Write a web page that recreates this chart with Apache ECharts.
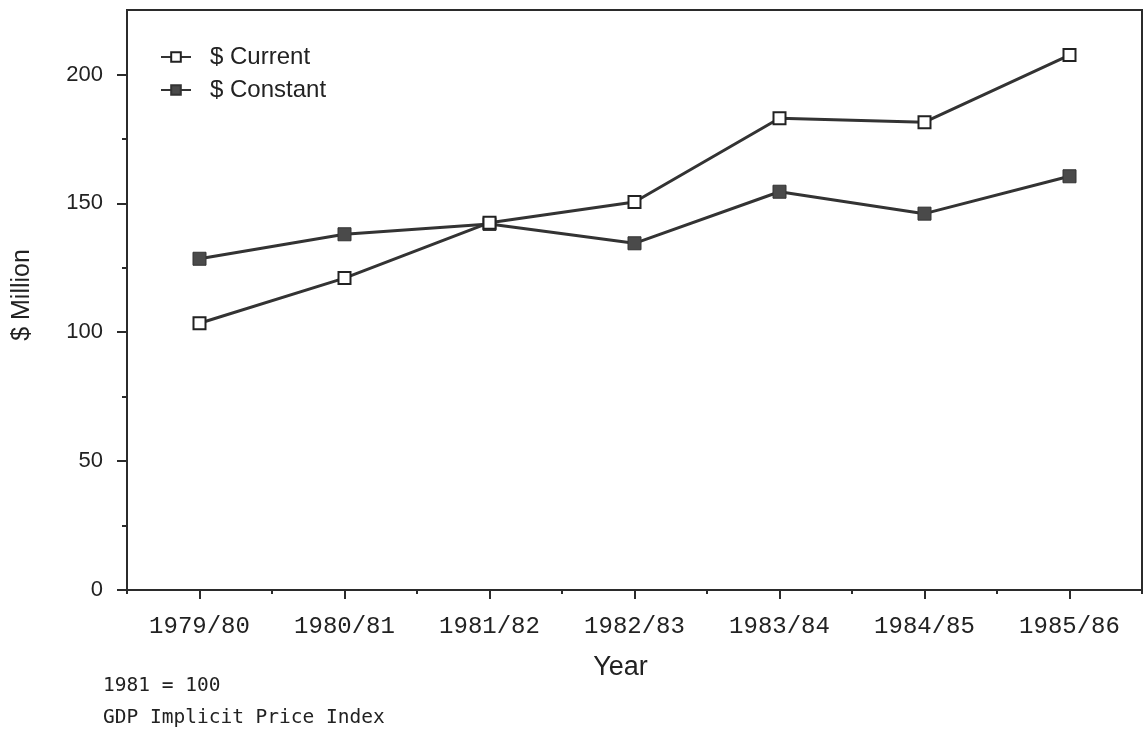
<!DOCTYPE html>
<html>
<head>
<meta charset="utf-8">
<script src="https://cdn.jsdelivr.net/npm/echarts@6/dist/echarts.min.js"></script>
<style>
  html, body { margin: 0; padding: 0; background: #fff; }
  #main { width: 1147px; height: 729px; }
</style>
</head>
<body>
<div id="main"></div>
<script>
// categories and values
var years = ['1979/80', '1980/81', '1981/82', '1982/83', '1983/84', '1984/85', '1985/86'];
var currentVals = [103.5, 121, 142.5, 150.5, 183, 181.5, 207.5];
var constantVals = [128.5, 138, 142, 134.5, 154.5, 146, 160.5];
var majorTicks = [0, 50, 100, 150, 200];
var minorTicks = [25, 75, 125, 175];

var ink = '#2b2b2b';
var monoFont = 'Liberation Mono';
var sansFont = 'Liberation Sans';

var myChart = echarts.init(document.getElementById('main'));

var option = {
  backgroundColor: '#fff',
  animation: false,
  grid: {
    left: 127, top: 10, right: 5, bottom: 139,
    show: true, borderColor: ink, borderWidth: 2
  },
  legend: {
    orient: 'vertical',
    left: 155, top: 40,
    itemWidth: 30, itemHeight: 12, itemGap: 9,
    textStyle: { fontFamily: sansFont, fontSize: 24, color: '#222', padding: [0, 0, 0, 14] },
    data: ['$ Current', '$ Constant']
  },
  xAxis: [{
    type: 'category',
    data: years,
    boundaryGap: true,
    name: 'Year',
    nameLocation: 'middle',
    nameGap: 64,
    nameTextStyle: { fontFamily: sansFont, fontSize: 27, color: '#222', padding: [0, 28, 0, 0] },
    axisLine: { lineStyle: { color: ink, width: 2 } },
    axisTick: { show: true, alignWithLabel: true, length: 9, lineStyle: { color: ink, width: 2 } },
    axisLabel: { margin: 25, fontFamily: monoFont, fontSize: 24, color: '#222' },
    splitLine: { show: false }
  }, {
    // short ticks at the band edges
    type: 'category',
    data: years,
    boundaryGap: true,
    position: 'bottom',
    axisLine: { show: false },
    axisTick: { show: true, length: 4, lineStyle: { color: ink, width: 2 } },
    axisLabel: { show: false },
    splitLine: { show: false }
  }],
  yAxis: [{
    type: 'value',
    min: 0, max: 225, interval: 50,
    name: '$ Million',
    nameLocation: 'middle',
    nameGap: 92,
    nameTextStyle: { fontFamily: sansFont, fontSize: 25, color: '#222', padding: [0, 0, 0, 10] },
    axisLine: { show: true, lineStyle: { color: ink, width: 2 } },
    axisTick: { show: true, length: 10, customValues: majorTicks, lineStyle: { color: ink, width: 2 } },
    axisLabel: { margin: 24, customValues: majorTicks, fontFamily: sansFont, fontSize: 22, color: '#222' },
    splitLine: { show: false }
  }, {
    type: 'value',
    min: 0, max: 225,
    position: 'left',
    axisLine: { show: false },
    axisTick: { show: true, length: 5, customValues: minorTicks, lineStyle: { color: ink, width: 2 } },
    axisLabel: { show: false, customValues: minorTicks },
    splitLine: { show: false }
  }],
  series: [{
    name: '$ Current',
    type: 'line',
    data: currentVals,
    symbol: 'rect',
    symbolSize: 12,
    lineStyle: { color: '#333', width: 3 },
    itemStyle: { color: '#fff', borderColor: '#222', borderWidth: 2 },
    z: 3
  }, {
    name: '$ Constant',
    type: 'line',
    data: constantVals,
    symbol: 'rect',
    symbolSize: 13,
    lineStyle: { color: '#333', width: 3 },
    itemStyle: { color: '#4a4a4a', borderColor: '#333', borderWidth: 1 },
    z: 2
  }],
  graphic: [{
    type: 'text', left: 103, top: 676,
    style: { text: '1981 = 100', font: '19.5px "DejaVu Sans Mono"', fill: '#222' }
  }, {
    type: 'text', left: 103, top: 708,
    style: { text: 'GDP Implicit Price Index', font: '19.5px "DejaVu Sans Mono"', fill: '#222' }
  }]
};

myChart.setOption(option);
</script>
</body>
</html>
